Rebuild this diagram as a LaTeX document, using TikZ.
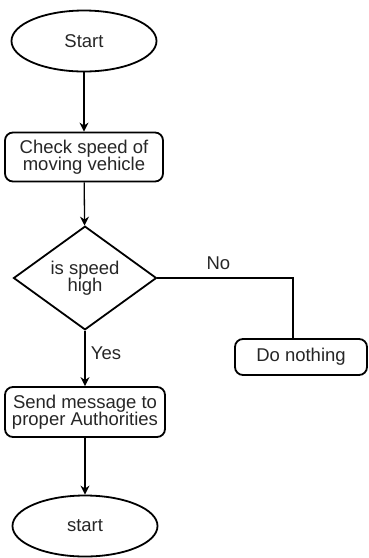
\documentclass[tikz,border=0pt]{standalone}
\usepackage{fontspec}
\setmainfont{Liberation Sans}
\usetikzlibrary{shapes.geometric,arrows.meta}

\tikzset{
  term/.style={draw, ellipse, line width=1.8pt, minimum width=145pt, minimum height=61pt, inner sep=0pt},
  proc/.style={draw, rounded corners=8pt, line width=1.8pt, align=center, inner sep=0pt},
  decide/.style={draw, diamond, line width=1.8pt, minimum width=143pt, minimum height=97pt, inner sep=0pt, align=center},
  flow/.style={line width=1.3pt, -{Stealth[length=9pt,width=9pt]}}
}

\begin{document}
\begin{tikzpicture}[every node/.style={font=\fontsize{18.5}{17.5}\selectfont, text=black!85}, x=1pt, y=-1pt]
	\useasboundingbox (0,0) rectangle (368,558);
	\node[term] (start) at (84,41) {Start};
	\node[proc, minimum width=158pt, minimum height=49pt] (check) at (84,157) {Check speed of\\moving vehicle};
	\node[decide] (speed) at (85,278) {is speed\\high};
	\node[proc, minimum width=132pt, minimum height=36pt] (nothing) at (301,357) {Do nothing};
	\node[proc, minimum width=160pt, minimum height=50pt] (send) at (85,412) {Send message to\\proper Authorities};
	\node[term] (stop) at (85,526) {start};
	\coordinate (bend) at (293,278);
	\draw[flow] (start) -- (check);
	\draw[flow] (check) -- (speed);
	\draw[flow] (speed) -- node[pos=0.4, right=2pt] {Yes} (send);
	\draw[line width=1.3pt] (speed.east) -- node[above=4pt, pos=0.45] {No} (bend) -- (bend |- nothing.north);
	\draw[flow] (send) -- (stop);
\end{tikzpicture}
\end{document}
